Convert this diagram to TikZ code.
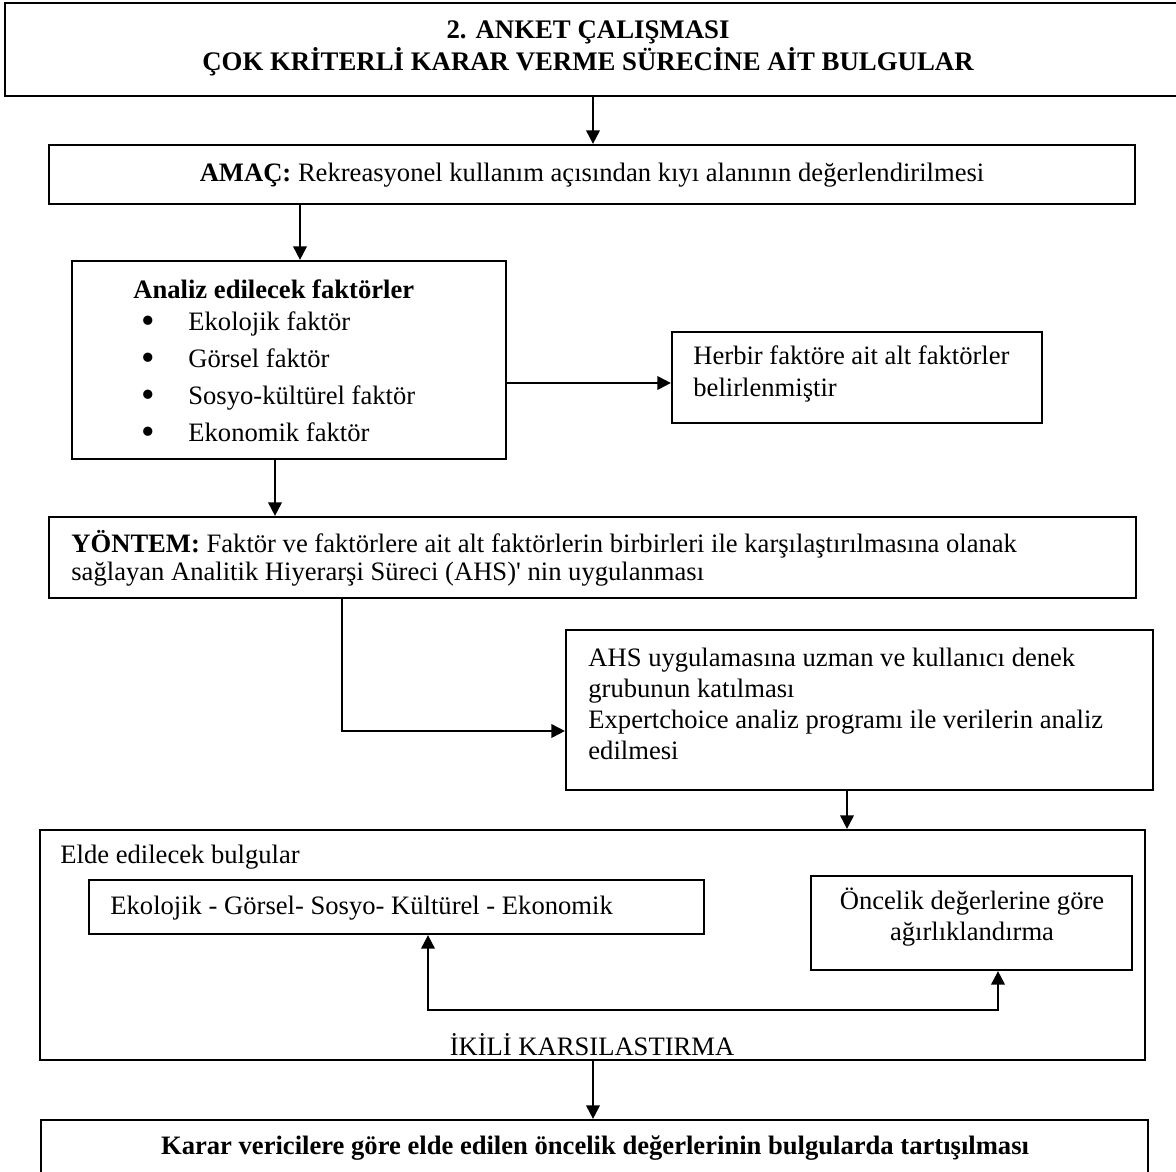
\documentclass[tikz,border=0pt]{standalone}
\usepackage{fontspec}
\usepackage{graphicx}
\setmainfont{Liberation Serif}
\newfontfamily\straightfont{Liberation Serif}
\usetikzlibrary{arrows.meta,fit}

\newcommand{\bigbul}{\makebox[23.5pt][l]{\raisebox{-0.12em}{\scalebox{1.45}{\textbullet}}}}

\begin{document}
\begin{tikzpicture}[x=0.5pt,y=-0.5pt,
  box/.style={draw, line width=1.1pt, inner sep=0pt},
  txt/.style={inner sep=0pt, font=\fontsize{13.3pt}{16pt}\selectfont},
  arr/.style={line width=1pt, -{Triangle[length=6.8pt,width=6.8pt]}},
  dbl/.style={line width=1pt, {Triangle[length=6.8pt,width=6.8pt]}-{Triangle[length=6.8pt,width=6.8pt]}}
]
\useasboundingbox (0,0) rectangle (1176,1171);

% title
\node[box, fit={(5,3) (1190,96)}] (title) {};
\node[txt, align=center, font=\bfseries\fontsize{13.4pt}{16pt}\selectfont] (titletxt) at (588,48.5)
  {2. ANKET ÇALIŞMASI\\ÇOK KRİTERLİ KARAR VERME SÜRECİNE AİT BULGULAR};

% amac
\node[box, fit={(49,145) (1135,204)}] (amac) {};
\node[txt] (amactxt) at (592,175)
  {\textbf{AMAÇ:} Rekreasyonel kullanım açısından kıyı alanının değerlendirilmesi};

% analiz
\node[box, fit={(72,261) (506,459)}] (analiz) {};
\node[txt, anchor=west, font=\bfseries\fontsize{13.3pt}{16pt}\selectfont] (analiztitle) at (133,289)
  {Analiz edilecek faktörler};
\node[txt, anchor=west, align=left, font=\fontsize{13.3pt}{18.5pt}\selectfont] (analizlist) at (141,378)
  {\bigbul Ekolojik faktör\\
   \bigbul Görsel faktör\\
   \bigbul Sosyo-kültürel faktör\\
   \bigbul Ekonomik faktör};

% herbir
\node[box, fit={(672,332) (1042,423)}] (herbir) {};
\node[txt, anchor=west, align=left, font=\fontsize{13.3pt}{16pt}\selectfont] (herbirtxt) at (693,374)
  {Herbir faktöre ait alt faktörler\\belirlenmiştir};

% yontem
\node[box, fit={(49,517) (1136,598)}] (yontem) {};
\node[txt, anchor=west, align=left, font=\fontsize{13.3pt}{14pt}\selectfont] (yontemtxt) at (71,558)
  {\textbf{YÖNTEM:} Faktör ve faktörlere ait alt faktörlerin birbirleri ile karşılaştırılmasına olanak\\
   sağlayan Analitik Hiyerarşi Süreci (AHS){\straightfont '} nin uygulanması};

% ahs
\node[box, fit={(566,630) (1153,790)}] (ahs) {};
\node[txt, anchor=west, align=left, font=\fontsize{13.3pt}{15.5pt}\selectfont] (ahstxt) at (588,703.5)
  {AHS uygulamasına uzman ve kullanıcı denek\\grubunun katılması\\
   Expertchoice analiz programı ile verilerin analiz\\edilmesi};

% elde
\node[box, fit={(40,830) (1145,1060)}] (elde) {};
\node[txt, anchor=west] (eldetxt) at (60,857) {Elde edilecek bulgular};
\node[box, fit={(89,880) (704,934)}] (eko) {};
\node[txt, anchor=west] (ekotxt) at (110,908) {Ekolojik - Görsel- Sosyo- Kültürel - Ekonomik};
\node[box, fit={(811,876) (1132,970)}] (onc) {};
\node[txt, align=center, font=\fontsize{13.3pt}{15.5pt}\selectfont] (onctxt) at (972,917.5)
  {Öncelik değerlerine göre\\ağırlıklandırma};
\coordinate (jL) at (428,1010);
\coordinate (jR) at (998,1010);
\node[txt] (ikili) at (592,1045) {İKİLİ KARSILASTIRMA};

% karar
\node[box, fit={(41,1120) (1148,1200)}] (karar) {};
\node[txt, font=\bfseries\fontsize{13.3pt}{16pt}\selectfont] (karartxt) at (595,1148)
  {Karar vericilere göre elde edilen öncelik değerlerinin bulgularda tartışılması};

% connectors
\draw[arr] (title.south -| 593,0) -- (amac.north -| 593,0);
\draw[arr] (amac.south -| 300,0) -- (analiz.north -| 300,0);
\draw[arr] (analiz.east |- 0,383) -- (herbir.west |- 0,383);
\draw[arr] (analiz.south -| 275,0) -- (yontem.north -| 275,0);
\draw[arr] (yontem.south -| 342,0) |- (ahs.west |- 0,731);
\draw[arr] (ahs.south -| 847,0) -- (elde.north -| 847,0);
\draw[dbl] (eko.south -| jL) -- (jL) -- (jR) -- (onc.south -| jR);
\draw[arr] (elde.south -| 593,0) -- (karar.north -| 593,0);
\end{tikzpicture}
\end{document}
